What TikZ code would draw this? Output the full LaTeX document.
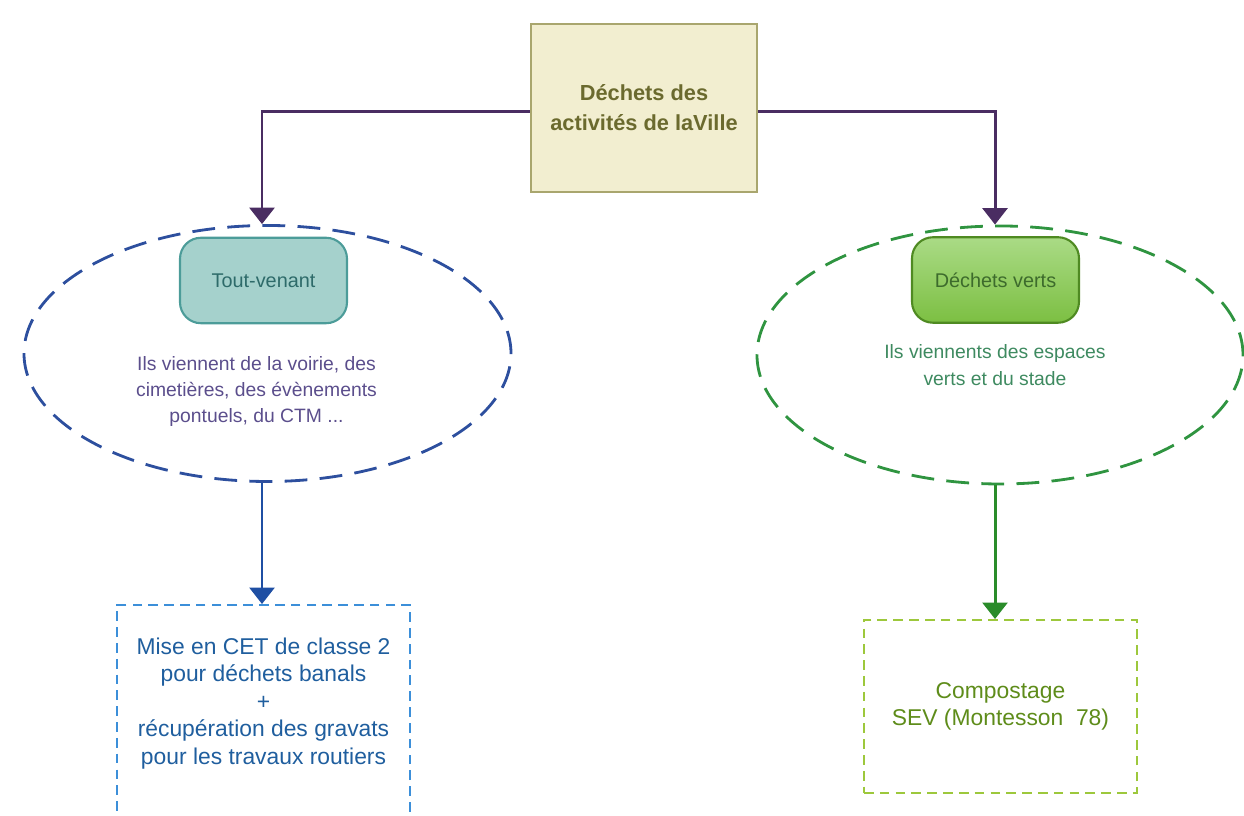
\documentclass[tikz,border=0pt]{standalone}
\usepackage{fontspec}
\setmainfont{Liberation Sans}
\usetikzlibrary{shapes,arrows.meta}

\definecolor{topfill}{HTML}{F2EED0}
\definecolor{topborder}{HTML}{A9A66E}
\definecolor{toptext}{HTML}{6B6A2E}
\definecolor{linkpurple}{HTML}{4A2D62}
\definecolor{zoneblue}{HTML}{2D4F9E}
\definecolor{tvfill}{HTML}{A5D1CC}
\definecolor{tvborder}{HTML}{4C9C99}
\definecolor{tvtext}{HTML}{2E6B6A}
\definecolor{notepurple}{HTML}{5B4E8C}
\definecolor{linkblue}{HTML}{1F4FA3}
\definecolor{cetdash}{HTML}{3C8FD9}
\definecolor{cettext}{HTML}{1F5E9E}
\definecolor{zonegreen}{HTML}{2F9440}
\definecolor{dvtop}{HTML}{AADB86}
\definecolor{dvbottom}{HTML}{7CBF42}
\definecolor{dvborder}{HTML}{4F8A22}
\definecolor{dvtext}{HTML}{3D6B2C}
\definecolor{notegreen}{HTML}{3E8A60}
\definecolor{linkgreen}{HTML}{2A8C2A}
\definecolor{compdash}{HTML}{9DC83C}
\definecolor{comptext}{HTML}{5E8C1A}

\tikzset{
	source/.style={draw=topborder, line width=1.5pt, fill=topfill, minimum width=4.52cm, minimum height=3.36cm, align=center, text=toptext, font=\bfseries\fontsize{12.4}{17}\selectfont},
	zone/.style={ellipse, dash pattern=on 13pt off 7pt, line width=1.6pt, minimum width=9.74cm, minimum height=5.12cm, inner sep=0pt},
	family/.style={rounded corners=0.42cm, line width=1.2pt, minimum width=3.34cm, minimum height=1.71cm, font=\fontsize{11.3}{14}\selectfont},
	note/.style={align=center, font=\fontsize{11}{15}\selectfont},
	outlet/.style={dash pattern=on 5.5pt off 3.5pt, line width=1.1pt, inner sep=0pt},
	outlettext/.style={align=center, font=\fontsize{13}{15.6}\selectfont},
	link/.style={line width=1.7pt, -{Triangle[width=0.5cm,length=0.33cm]}}
}

\begin{document}
\begin{tikzpicture}
	%    \draw[step=1cm,gray,very thin] (0,0) grid (25,16);
	\useasboundingbox (0,0) rectangle (24.88,16.32);
	\clip (0,0) rectangle (24.88,16.32);
	
	\node[source] (deb) at (12.88,14.16) {D\'echets des\\activit\'es de laVille};
	
	% left branch
	\node[zone, draw=zoneblue] (tvzone) at (5.35,9.25) {};
	\node[family, draw=tvborder, fill=tvfill, text=tvtext] (tv) at (5.27,10.71) {Tout-venant};
	\node[note, text=notepurple] (tvnote) at (5.13,8.49) {Ils viennent de la voirie, des\\cimeti\`eres, des \'ev\`enements\\pontuels, du CTM ...};
	\node[outlet, draw=cetdash, minimum width=5.86cm, minimum height=4.6cm] (cet) at (5.27,1.92) {};
	\node[outlettext, text=cettext] (cettxt) at (5.27,2.25) {Mise en CET de classe 2\\pour d\'echets banals\\+\\r\'ecup\'eration des gravats\\pour les travaux routiers};
	
	% right branch
	\node[zone, draw=zonegreen, minimum width=9.72cm, minimum height=5.16cm] (dvzone) at (20.0,9.22) {};
	\node[family, draw=dvborder, top color=dvtop, bottom color=dvbottom, text=dvtext] (dv) at (19.91,10.72) {D\'echets verts};
	\node[note, text=notegreen] (dvnote) at (19.9,9.02) {Ils viennents des espaces\\verts et du stade};
	\node[outlet, draw=compdash, minimum width=5.46cm, minimum height=3.46cm, outlettext, text=comptext] (comp) at (20.01,2.19) {Compostage\\SEV (Montesson\ \ 78)};
	
	\coordinate (lbend) at (5.24,14.08);
	\coordinate (rbend) at (19.9,14.08);
	
	\draw[link, draw=linkpurple] (deb.west |- lbend) -- (lbend) -- (lbend |- tvzone.north);
	\draw[link, draw=linkpurple] (deb.east |- rbend) -- (rbend) -- (rbend |- dvzone.north);
	\draw[link, draw=linkblue] (lbend |- tvzone.south) -- (lbend |- cet.north);
	\draw[link, draw=linkgreen] (rbend |- dvzone.south) -- (rbend |- comp.north);
	
\end{tikzpicture}
\end{document}
